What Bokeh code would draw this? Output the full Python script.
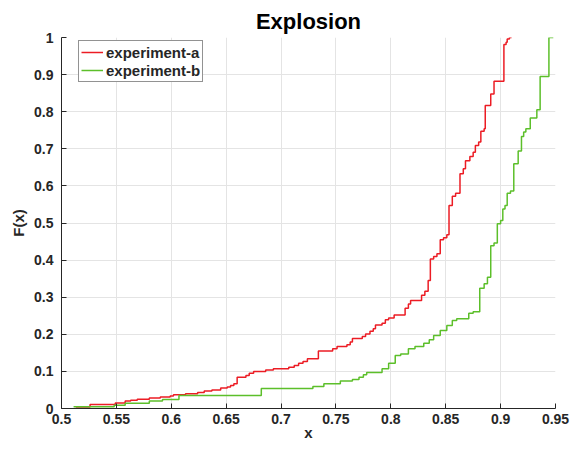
from bokeh.plotting import figure
from bokeh.models import Range1d, FixedTicker, Legend
from bokeh.embed import file_html
from bokeh.resources import INLINE

# Empirical CDF breakpoints: sample value and cumulative fraction reached there
a_x = [0.513, 0.526, 0.549, 0.558, 0.563, 0.569, 0.580, 0.590, 0.599, 0.602,
       0.613, 0.624, 0.630, 0.637, 0.645, 0.651, 0.654, 0.657, 0.660, 0.668,
       0.671, 0.675, 0.686, 0.693, 0.707, 0.712, 0.716, 0.720, 0.724, 0.734,
       0.747, 0.751, 0.760, 0.763, 0.765, 0.774, 0.777, 0.781, 0.784, 0.786,
       0.792, 0.795, 0.798, 0.803, 0.813, 0.816, 0.818, 0.828, 0.831, 0.834,
       0.836, 0.839, 0.842, 0.845, 0.848, 0.851, 0.853, 0.856, 0.859, 0.863,
       0.866, 0.868, 0.872, 0.875, 0.877, 0.880, 0.882, 0.885, 0.886, 0.891,
       0.894, 0.903, 0.905, 0.906, 0.908, 0.910]
a_F = [0.004, 0.011, 0.015, 0.020, 0.022, 0.025, 0.028, 0.031, 0.034, 0.037,
       0.040, 0.043, 0.047, 0.050, 0.055, 0.058, 0.062, 0.067, 0.084, 0.089,
       0.095, 0.100, 0.104, 0.107, 0.111, 0.116, 0.122, 0.127, 0.134, 0.155,
       0.161, 0.167, 0.172, 0.179, 0.189, 0.194, 0.201, 0.208, 0.215, 0.225,
       0.230, 0.239, 0.244, 0.252, 0.270, 0.282, 0.291, 0.305, 0.316, 0.345,
       0.403, 0.410, 0.417, 0.455, 0.460, 0.468, 0.547, 0.572, 0.580, 0.633,
       0.646, 0.668, 0.679, 0.691, 0.709, 0.718, 0.747, 0.754, 0.817, 0.848,
       0.882, 0.981, 0.987, 0.996, 1.000, 1.000]

b_x = [0.511, 0.548, 0.558, 0.580, 0.592, 0.607, 0.682, 0.729, 0.739, 0.754,
       0.765, 0.771, 0.775, 0.778, 0.792, 0.798, 0.804, 0.809, 0.816, 0.822,
       0.830, 0.835, 0.839, 0.845, 0.851, 0.856, 0.860, 0.871, 0.875, 0.881,
       0.885, 0.888, 0.891, 0.894, 0.897, 0.900, 0.902, 0.904, 0.906, 0.909,
       0.912, 0.916, 0.919, 0.921, 0.923, 0.927, 0.933, 0.936, 0.944, 0.948]
b_F = [0.005, 0.009, 0.014, 0.020, 0.024, 0.035, 0.054, 0.059, 0.067, 0.074,
       0.078, 0.084, 0.091, 0.097, 0.107, 0.122, 0.143, 0.147, 0.161, 0.167,
       0.176, 0.185, 0.197, 0.210, 0.224, 0.237, 0.242, 0.257, 0.261, 0.324,
       0.336, 0.354, 0.439, 0.446, 0.498, 0.507, 0.538, 0.547, 0.580, 0.586,
       0.660, 0.694, 0.733, 0.745, 0.754, 0.783, 0.805, 0.895, 1.000, 1.000]

x_ticks = [0.5, 0.55, 0.6, 0.65, 0.7, 0.75, 0.8, 0.85, 0.9, 0.95]
x_tick_labels = ["0.5", "0.55", "0.6", "0.65", "0.7", "0.75", "0.8", "0.85", "0.9", "0.95"]
y_ticks = [0, 0.1, 0.2, 0.3, 0.4, 0.5, 0.6, 0.7, 0.8, 0.9, 1.0]
y_tick_labels = ["0", "0.1", "0.2", "0.3", "0.4", "0.5", "0.6", "0.7", "0.8", "0.9", "1"]

FONT = "Liberation Sans"
DARK = "#262626"

p = figure(width=573, height=450, output_backend="svg", toolbar_location=None,
           x_range=Range1d(0.5, 0.95), y_range=Range1d(0, 1),
           min_border_left=61, min_border_right=18, min_border_top=37,
           min_border_bottom=42, title="Explosion")

p.title.align = "center"
p.title.text_font = FONT
p.title.text_font_style = "bold"
p.title.text_font_size = "22px"
p.title.text_color = "#000000"
p.title.standoff = 8

p.outline_line_color = None
p.background_fill_color = "white"
p.border_fill_color = "white"

p.xaxis.ticker = FixedTicker(ticks=x_ticks)
p.yaxis.ticker = FixedTicker(ticks=y_ticks)
p.xaxis.major_label_overrides = dict(zip(x_ticks, x_tick_labels))
p.yaxis.major_label_overrides = dict(zip(y_ticks, y_tick_labels))
p.xaxis.axis_label = "x"
p.yaxis.axis_label = "F(x)"

for ax in (p.xaxis[0], p.yaxis[0]):
    ax.axis_line_color = DARK
    ax.axis_line_width = 1
    ax.major_tick_line_color = DARK
    ax.major_tick_in = 5
    ax.major_tick_out = 0
    ax.minor_tick_line_color = None
    ax.major_label_text_font = FONT
    ax.major_label_text_font_style = "bold"
    ax.major_label_text_font_size = "14px"
    ax.major_label_text_color = DARK
    ax.axis_label_text_font = FONT
    ax.axis_label_text_font_style = "bold"
    ax.axis_label_text_font_size = "15px"
    ax.axis_label_text_color = DARK

p.xaxis.major_label_standoff = 5
p.xaxis.axis_label_standoff = -3
p.yaxis.major_label_standoff = 8
p.yaxis.axis_label_standoff = 4

p.grid.grid_line_color = "#e4e4e4"
p.grid.grid_line_width = 1

ra = p.step(a_x, a_F, mode="after", line_color="#ec1c24", line_width=1.5)
rb = p.step(b_x, b_F, mode="after", line_color="#5cbf2a", line_width=1.5)

legend = Legend(items=[("experiment-a", [ra]), ("experiment-b", [rb])],
                location=(17, 326))
legend.label_text_font = FONT
legend.label_text_font_style = "bold"
legend.label_text_font_size = "15px"
legend.label_text_color = DARK
legend.border_line_color = DARK
legend.border_line_width = 1
legend.background_fill_color = "white"
legend.background_fill_alpha = 1
legend.padding = 2
legend.spacing = 0
legend.margin = 0
legend.glyph_width = 22
legend.glyph_height = 18
legend.label_height = 18
legend.label_standoff = 3
p.add_layout(legend, "center")

open("out.html", "w").write(file_html(p, INLINE))
